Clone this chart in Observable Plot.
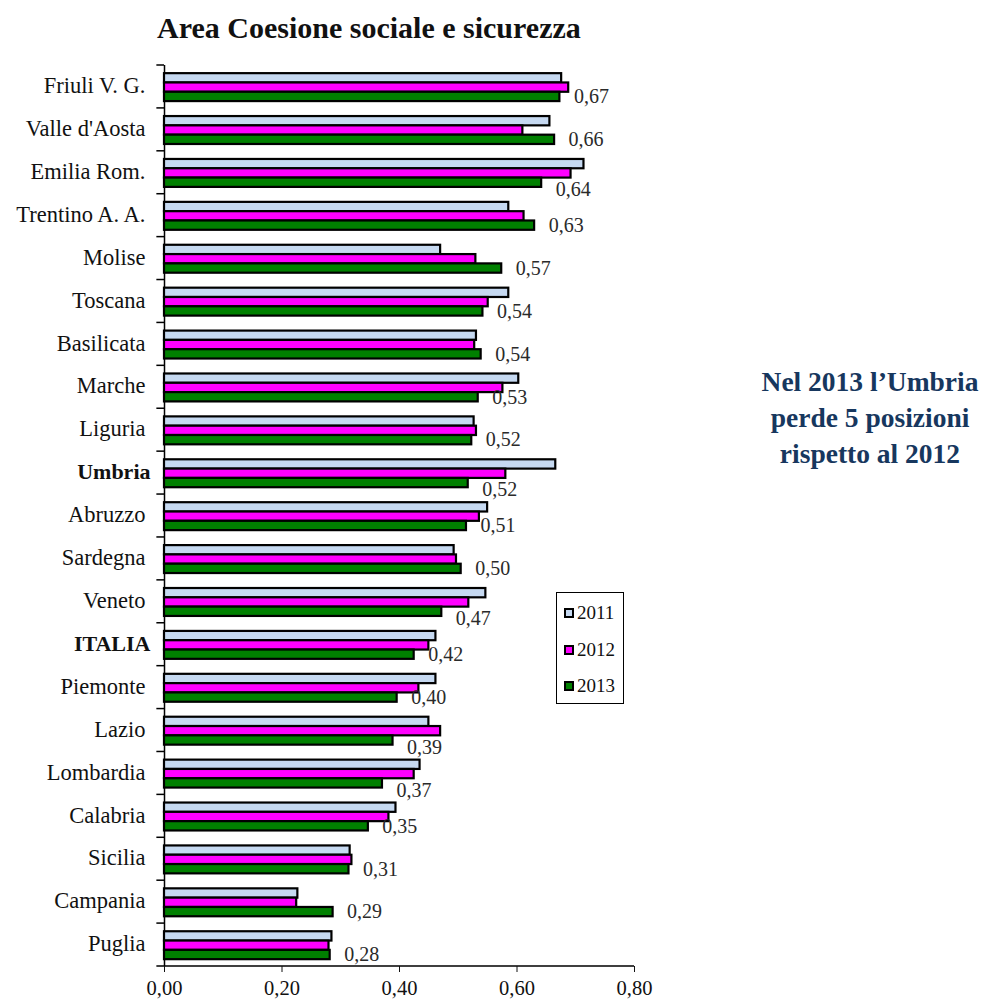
<!DOCTYPE html>
<html>
<head>
<meta charset="utf-8">
<script src="https://cdn.jsdelivr.net/npm/d3@7"></script>
<script src="https://cdn.jsdelivr.net/npm/@observablehq/plot@0.6"></script>
<style>
  html, body { margin: 0; padding: 0; background: #fff; }
  #wrap { position: relative; width: 985px; height: 1001px; font-family: "Liberation Serif", "DejaVu Serif", serif; color: #111; }
  #title { position: absolute; left: 157px; top: 8px; font-size: 30px; line-height: 40px; font-weight: bold; white-space: nowrap; }
  #chart { position: absolute; left: 0; top: 50px; }
  #note { position: absolute; left: 720px; top: 364px; width: 300px; text-align: center; font-size: 27.5px; font-weight: bold; line-height: 36px; color: #17375E; }
  #legend { position: absolute; left: 556px; top: 592px; width: 68px; height: 112px; border: 1.5px solid #000; box-sizing: border-box; background: #fff; }
  .li { position: absolute; left: 7px; font-size: 19px; line-height: 20px; display: flex; align-items: center; }
  .sw { width: 6px; height: 6px; border: 2px solid #000; margin-right: 3px; }
</style>
</head>
<body>
<div id="wrap">
  <div id="title">Area Coesione sociale e sicurezza</div>
  <div id="chart"></div>
  <div id="note">Nel 2013 l’Umbria<br>perde 5 posizioni<br>rispetto al 2012</div>
  <div id="legend"></div>
</div>
<script>
// ---- data ----
const regions = ["Friuli V. G.", "Valle d'Aosta", "Emilia Rom.", "Trentino A. A.", "Molise", "Toscana", "Basilicata", "Marche", "Liguria", "Umbria", "Abruzzo", "Sardegna", "Veneto", "ITALIA", "Piemonte", "Lazio", "Lombardia", "Calabria", "Sicilia", "Campania", "Puglia"];
const boldRegions = ["Umbria", "ITALIA"];
const years = ["2011", "2012", "2013"];
const values2011 = [0.676, 0.656, 0.714, 0.586, 0.470, 0.586, 0.531, 0.603, 0.527, 0.666, 0.550, 0.493, 0.547, 0.462, 0.462, 0.450, 0.435, 0.394, 0.316, 0.227, 0.285];
const values2012 = [0.688, 0.610, 0.692, 0.612, 0.530, 0.551, 0.528, 0.576, 0.531, 0.581, 0.536, 0.497, 0.518, 0.450, 0.433, 0.470, 0.425, 0.382, 0.319, 0.225, 0.280];
const values2013 = [0.673, 0.664, 0.642, 0.630, 0.574, 0.542, 0.539, 0.534, 0.523, 0.517, 0.514, 0.505, 0.472, 0.425, 0.396, 0.389, 0.371, 0.347, 0.314, 0.287, 0.282];
const labels2013 = ["0,67", "0,66", "0,64", "0,63", "0,57", "0,54", "0,54", "0,53", "0,52", "0,52", "0,51", "0,50", "0,47", "0,42", "0,40", "0,39", "0,37", "0,35", "0,31", "0,29", "0,28"];
const xTicks = [0, 0.2, 0.4, 0.6, 0.8];
const colors = ["#C6D9F1", "#FF00FF", "#008000"];

// ---- build table ----
const seriesValues = [values2011, values2012, values2013];
const rows = regions.flatMap((r, i) => years.map((y, j) => ({region: r, year: y, value: seriesValues[j][i]})));
const last = regions.map((r, i) => ({region: r, value: values2013[i], v12: values2012[i], label: labels2013[i]}));

const W = 985, H = 951, mT = 15, mB = 35, mL = 164, mR = 351;
const bw = (H - mT - mB) / regions.length;
const barH = bw * 0.217;
const off = bw * 0.19;

const barFor = (j) => Plot.barX(rows.filter(d => d.year === years[j]), {
  x: "value", y: "region", fill: colors[j], stroke: "#000", strokeWidth: 2.2,
  insetTop: off + j * barH, insetBottom: bw - off - (j + 1) * barH
});

const shifted = d => d.v12 - d.value > 0.045;
const fmt = d => d.toFixed(2).replace(".", ",");

const plot = Plot.plot({
  width: W, height: H,
  marginTop: mT, marginBottom: mB, marginLeft: mL, marginRight: mR,
  style: {fontFamily: "Liberation Serif, serif", fontSize: "20.5px", color: "#111", background: "#fff", overflow: "visible"},
  x: {domain: [0, 0.8], axis: null, label: null},
  y: {domain: regions, padding: 0, round: false, axis: null, label: null},
  marks: [
    // boundary ticks on y axis
    Plot.barX(regions, {y: d => d, x1: -0.013, x2: 0, fill: "#000", insetTop: -0.75, insetBottom: bw - 0.75}),
    Plot.barX([regions[regions.length - 1]], {y: d => d, x1: -0.013, x2: 0.8, fill: "#000", insetTop: bw - 0.75, insetBottom: -0.75}),
    Plot.ruleX([0], {stroke: "#000", strokeWidth: 1.5}),
    barFor(0), barFor(1), barFor(2),
    // value labels
    Plot.text(last.filter(d => !shifted(d)), {x: "value", y: "region", text: "label", textAnchor: "start", dx: 14, dy: bw * 0.23, fontSize: 20, fill: "#2a2a2a"}),
    Plot.text(last.filter(shifted), {x: "value", y: "region", text: "label", textAnchor: "start", dx: 14, dy: bw * 0.23 + 7, fontSize: 20, fill: "#2a2a2a"}),
    // category labels
    Plot.text(regions.filter(r => !boldRegions.includes(r)), {y: d => d, frameAnchor: "left", textAnchor: "end", dx: -19, dy: -1, fontSize: 22.5, fill: "#111"}),
    Plot.text(regions.filter(r => boldRegions.includes(r)), {y: d => d, frameAnchor: "left", textAnchor: "end", dx: -14, dy: -1, fontSize: 22, fontWeight: "bold", fill: "#111"}),
    // x axis
    Plot.axisX({ticks: xTicks, tickFormat: fmt, tickSize: 6, tickPadding: 8, fontSize: 20.5, label: null})
  ]
});
document.getElementById("chart").appendChild(plot);

// legend
const leg = document.getElementById("legend");
years.forEach((y, j) => {
  const el = document.createElement("div");
  el.className = "li";
  el.style.top = (10 + j * 36.5) + "px";
  el.innerHTML = `<span class="sw" style="background:${colors[j]}"></span><span>${y}</span>`;
  leg.appendChild(el);
});
</script>
</body>
</html>
